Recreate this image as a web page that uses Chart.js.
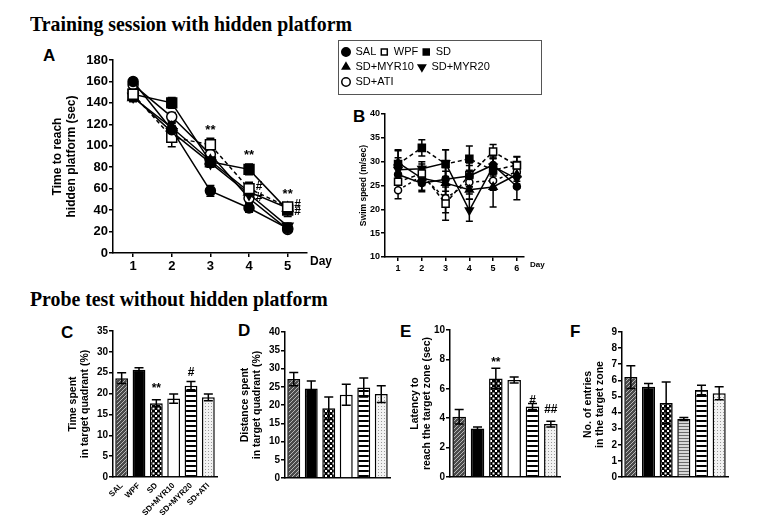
<!DOCTYPE html>
<html><head><meta charset="utf-8">
<script src="https://cdn.jsdelivr.net/npm/chart.js@4.4.1/dist/chart.umd.min.js"></script>
<style>
body{margin:0;background:#fff;width:757px;height:531px;position:relative;overflow:hidden}
canvas{position:absolute}
.h{position:absolute;font:bold 22px/22px 'Liberation Serif','Times New Roman',serif;white-space:nowrap;color:#000;transform:scaleX(0.9);transform-origin:0 0}
.L{position:absolute;font:bold 17px/17px 'Liberation Sans',Arial,sans-serif;color:#000}
</style></head><body>
<div class="h" style="left:30px;top:13px">Training session with hidden platform</div>
<div class="h" style="left:30px;top:288px">Probe test without hidden platform</div>
<div class="L" style="left:43px;top:47px">A</div>
<div class="L" style="left:353px;top:108px">B</div>
<div class="L" style="left:61px;top:324px">C</div>
<div class="L" style="left:238px;top:322px">D</div>
<div class="L" style="left:400px;top:323px">E</div>
<div class="L" style="left:570px;top:323px">F</div>
<canvas id="cA" width="340" height="250" style="left:0;top:40px"></canvas>
<canvas id="cL" width="204" height="110" style="left:338px;top:40px"></canvas>
<canvas id="cB" width="215" height="190" style="left:340px;top:100px"></canvas>
<canvas id="cC" width="200" height="215" style="left:30px;top:315px"></canvas>
<canvas id="cD" width="165" height="200" style="left:230px;top:315px"></canvas>
<canvas id="cE" width="170" height="200" style="left:400px;top:315px"></canvas>
<canvas id="cF" width="185" height="200" style="left:572px;top:315px"></canvas>
<script>
// ---------- DATA ----------
const groups = ['SAL','WPF','SD','SD+MYR10','SD+MYR20','SD+ATI'];
// Panel A: time to reach hidden platform (sec), days 1-5
const daysA = [1,2,3,4,5];
const aSAL   = [160,115,58,42,23];
const aWPF   = [148,108,101,60,43];
const aSD    = [148,140,85,78,40];
const aMYR10 = [145,117,86,57,42];
const aMYR20 = [146,113,84,55,25];
const aATI   = [157,127,92,51,22];
const aErrSAL   = [3,6,5,4,2];
const aErrWPF   = [4,9,6,6,3];
const aErrSD    = [5,5,4,5,6];
const aErrMYR10 = [4,5,4,5,3];
const aErrMYR20 = [4,6,4,5,3];
const aErrATI   = [3,4,4,4,2];
const aStars = [[3,114,'**'],[4,91,'**'],[5,55,'**']];
const aHash  = [[4,61.5,'#'],[4,52,'#'],[5,44.8,'#'],[5,38.6,'#']];
const aTicks = [0,20,40,60,80,100,120,140,160,180];
// Panel B: swim speed (m/sec), days 1-6
const daysB = [1,2,3,4,5,6];
const bSAL   = [27.3,25.5,26.3,27.0,29.3,24.8];
const bWPF   = [25.8,27.5,21.2,27.2,32.1,29.2];
const bSD    = [29.5,32.9,29.5,30.6,28.2,29.3];
const bMYR10 = [29.8,26.5,25.5,24.1,24.7,27.3];
const bMYR20 = [28.3,28.5,29.7,19.8,29.0,26.4];
const bATI   = [24.0,27.0,22.3,25.7,26.0,27.9];
const bErrSAL   = [2.0,1.8,2.5,2.2,2.0,2.8];
const bErrWPF   = [1.5,2.0,3.5,2.5,1.5,1.8];
const bErrSD    = [3.0,1.7,3.0,2.7,2.5,1.8];
const bErrMYR10 = [2.5,2.5,2.5,2.0,4.2,2.0];
const bErrMYR20 = [2.5,1.5,2.8,2.3,2.0,2.0];
const bErrATI   = [1.8,2.0,3.0,2.5,2.0,2.0];
// Panel C: time spent in target quadrant (%)
const cVals = [23.7,25.7,17.7,18.8,21.9,19.1];
const cErr  = [1.3,0.5,0.8,1.1,1.0,0.8];
const cSig  = [[2,21.1,'**'],[4,24.9,'#']];
// Panel D: distance spent in target quadrant (%)
const dVals = [27.1,24.5,19.1,22.8,24.8,23.0];
const dErr  = [1.8,2.1,3.1,2.9,2.6,2.3];
// Panel E: latency to reach the target zone (sec)
const eVals = [4.1,3.3,6.7,6.6,4.8,3.6];
const eErr  = [0.5,0.1,0.7,0.2,0.2,0.2];
const eSig  = [[2,7.8,'**'],[4,5.2,'#'],[5,4.55,'##']];
// Panel F: number of entries in the target zone
const fVals = [6.2,5.6,4.6,3.6,5.4,5.2];
const fErr  = [0.7,0.2,1.3,0.1,0.3,0.4];

// ---------- STYLE ----------
const FAM = "'Liberation Sans', Arial, sans-serif";
Chart.defaults.font.family = FAM;
Chart.defaults.color = '#000';
Chart.defaults.animation = false;
Chart.defaults.responsive = false;
Chart.defaults.plugins.legend.display = false;
Chart.defaults.plugins.tooltip.enabled = false;

const pStyles = ['circle','rect','rect','triangle','triangle','circle'];
const pRot    = [0,0,0,0,180,0];
const pFill   = ['#000','#fff','#000','#000','#000','#fff'];
const radA    = [5,7,7,6,6,5];
const radB    = [3.5,5,5,4.5,4.5,3.5];
const dashA   = [[],[4,3],[],[],[],[]];
const dashB   = [[],[4,3],[4,3],[],[],[3,3]];

function pat(w,h,draw){const c=document.createElement('canvas');c.width=w;c.height=h;const x=c.getContext('2d');draw(x);return x.createPattern(c,'repeat');}
const patSAL = pat(4,4,x=>{x.fillStyle='#4a4a4a';x.fillRect(0,0,4,4);x.strokeStyle='#b5b5b5';x.lineWidth=1;x.beginPath();x.moveTo(0,4);x.lineTo(4,0);x.moveTo(-1,1);x.lineTo(1,-1);x.moveTo(3,5);x.lineTo(5,3);x.stroke();});
const patSD  = pat(5,5,x=>{x.fillStyle='#000';x.fillRect(0,0,5,5);x.fillStyle='#fff';x.fillRect(0,0,2,2);x.fillRect(2.5,2.5,2,2);});
const patM20 = pat(4,5,x=>{x.fillStyle='#fff';x.fillRect(0,0,4,5);x.fillStyle='#000';x.fillRect(0,0,4,2);});
const patATI = pat(3,3,x=>{x.fillStyle='#f2f2f2';x.fillRect(0,0,3,3);x.fillStyle='#9a9a9a';x.fillRect(1,1,1,1);});
const patM10F= pat(3,3,x=>{x.fillStyle='#d8d8d8';x.fillRect(0,0,3,3);x.fillStyle='#6a6a6a';x.fillRect(0,0,3,1);});
const barFill  = [patSAL,'#000',patSD,'#fff',patM20,patATI];
const barFillF = [patSAL,'#000',patSD,patM10F,patM20,patATI];

// ---------- PLUGINS ----------
function errBars(errs, cap, before){
  const draw = chart=>{
    const ctx=chart.ctx, ys=chart.scales.y;
    ctx.save(); ctx.strokeStyle='#000'; ctx.lineWidth=1.5;
    chart.data.datasets.forEach((ds,i)=>{
      const meta=chart.getDatasetMeta(i), e=errs[i]; if(!e) return;
      meta.data.forEach((el,j)=>{
        const d=ds.data[j]; const v=(typeof d==='object')?d.y:d;
        const x=el.x, yt=ys.getPixelForValue(v+e[j]), yb=ys.getPixelForValue(v-e[j]);
        ctx.beginPath();ctx.moveTo(x,yt);ctx.lineTo(x,yb);
        ctx.moveTo(x-cap,yt);ctx.lineTo(x+cap,yt);ctx.moveTo(x-cap,yb);ctx.lineTo(x+cap,yb);ctx.stroke();
      });
    });
    ctx.restore();
  };
  return before ? {id:'errB',beforeDatasetsDraw:draw} : {id:'errA',afterDatasetsDraw:draw};
}
function notes(items, font, dx){
  return {id:'notes'+Math.random().toString(36).slice(2),afterDatasetsDraw(chart){
    const ctx=chart.ctx; ctx.save(); ctx.fillStyle='#000'; ctx.font=font; ctx.textAlign='center'; ctx.textBaseline='middle';
    items.forEach(([x,y,t])=>ctx.fillText(t, chart.scales.x.getPixelForValue(x)+dx, chart.scales.y.getPixelForValue(y)));
    ctx.restore();
  }};
}
function dayLabel(text, font, dx, dy){
  return {id:'day',afterDraw(chart){
    const ctx=chart.ctx,a=chart.chartArea; ctx.save(); ctx.fillStyle='#000'; ctx.font=font; ctx.textAlign='left'; ctx.textBaseline='middle';
    ctx.fillText(text, a.right+dx, a.bottom+dy); ctx.restore();
  }};
}
const boxBorder = {id:'boxBorder',afterDraw(chart){const c=chart.ctx;c.save();c.strokeStyle='#555';c.lineWidth=1;c.strokeRect(0.5,0.5,chart.width-1,54);c.restore();}};

function yAxis(min,max,step,size,width,title,tsize,tpad){
  return {min,max,
    ticks:{stepSize:step,font:{size,weight:'bold'},padding:1,color:'#000'},
    grid:{display:true,drawOnChartArea:false,tickLength:4,color:'#000',lineWidth:1.5},
    border:{display:true,color:'#000',width:1.5},
    afterFit:s=>{s.width=width;},
    title:{display:true,text:title,color:'#000',font:{size:tsize,weight:'bold',lineHeight:1.2},padding:{top:tpad,bottom:0}}};
}
function xLinear(min,max,ticks,size,height){
  return {type:'linear',min,max,
    afterBuildTicks:s=>{s.ticks=ticks.map(v=>({value:v}));},
    ticks:{font:{size,weight:'bold'},padding:2,maxRotation:0,autoSkip:false,color:'#000'},
    grid:{display:true,drawOnChartArea:false,tickLength:4,color:'#000',lineWidth:1.5},
    border:{display:true,color:'#000',width:1.5},
    afterFit:s=>{s.height=height;}};
}
function lineSets(vals, days, rad, dash){
  return vals.map((v,i)=>({label:groups[i],data:days.map((d,j)=>({x:d,y:v[j]})),
    borderColor:'#000',borderWidth:1.5,borderDash:dash[i],tension:0,
    pointStyle:pStyles[i],pointRotation:pRot[i],pointRadius:rad[i],
    pointBackgroundColor:pFill[i],pointBorderColor:'#000',pointBorderWidth:1.5}));
}

// ---------- PANEL A ----------
new Chart(document.getElementById('cA'),{
  type:'line',
  data:{datasets:lineSets([aSAL,aWPF,aSD,aMYR10,aMYR20,aATI],daysA,radA,dashA)},
  options:{layout:{padding:{left:0,top:20,right:33,bottom:0}},
    scales:{x:xLinear(0.48,5.5,daysA,13,37),
      y:Object.assign(yAxis(0,180,20,13,113,['Time to reach','hidden platform (sec)'],12,50),{afterBuildTicks:s=>{s.ticks=aTicks.map(v=>({value:v}));}})}},
  plugins:[errBars([aErrSAL,aErrWPF,aErrSD,aErrMYR10,aErrMYR20,aErrATI],4,true),
    notes(aStars,"bold 13px "+FAM,0),notes(aHash,"bold 12px "+FAM,10),
    dayLabel('Day',"bold 12px "+FAM,3,9)]
});

// ---------- LEGEND ----------
new Chart(document.getElementById('cL'),{
  type:'line',
  data:{labels:[''],datasets:groups.map((g,i)=>({label:g,data:[null],pointStyle:pStyles[i],pointRotation:pRot[i],
    pointBackgroundColor:pFill[i],pointBorderColor:'#000',pointBorderWidth:1.5,borderColor:'#000',backgroundColor:pFill[i]}))},
  options:{layout:{padding:{left:0,top:2.5,right:29,bottom:0}},
    scales:{x:{display:false},y:{display:false}},
    plugins:{legend:{display:true,position:'top',align:'start',maxHeight:100,
      labels:{usePointStyle:true,boxWidth:8,boxHeight:6,padding:4,color:'#000',font:{size:11,family:FAM}}}}},
  plugins:[boxBorder]
});

// ---------- PANEL B ----------
new Chart(document.getElementById('cB'),{
  type:'line',
  data:{datasets:lineSets([bSAL,bWPF,bSD,bMYR10,bMYR20,bATI],daysB,radB,dashB)},
  options:{layout:{padding:{left:0,top:14,right:31,bottom:0}},
    scales:{x:xLinear(0.45,6.3,daysB,9,33),
      y:yAxis(10,40,5,9,45,'Swim speed (m/sec)',8.5,19)}},
  plugins:[errBars([bErrSAL,bErrWPF,bErrSD,bErrMYR10,bErrMYR20,bErrATI],3.5,true),
    dayLabel('Day',"bold 8px "+FAM,6,8)]
});

// ---------- BAR PANELS ----------
function barChart(id,vals,errs,fills,yMin,yMax,step,yW,xH,padR,padT,title,tpad,showX,sig){
  const pl=[errBars([errs],4.5,false)];
  if(sig) pl.push(notes(sig,"bold 12px "+FAM,0));
  return new Chart(document.getElementById(id),{
    type:'bar',
    data:{labels:groups,datasets:[{data:vals,backgroundColor:fills,borderColor:'#000',borderWidth:1.5,
      barPercentage:0.74,categoryPercentage:1,borderSkipped:'bottom'}]},
    options:{layout:{padding:{left:0,top:padT,right:padR,bottom:0}},
      scales:{
        x:{grid:{display:false,drawTicks:false},border:{display:true,color:'#000',width:1.5},
          ticks:{display:showX,font:{size:8,weight:'bold'},minRotation:45,maxRotation:45,autoSkip:false,padding:4,color:'#000'},
          afterFit:s=>{s.height=xH;}},
        y:yAxis(yMin,yMax,step,10,yW,title,10.5,tpad)}},
    plugins:pl
  });
}
barChart('cC',cVals,cErr,barFill,0,35,5,83,53,13,16,['Time spent','in target quadrant (%)'],36.7,true,cSig);
barChart('cD',dVals,dErr,barFill,0,40,5,55,37,5,17,['Distance spent','in target quadrant (%)'],8.7,false,null);
barChart('cE',eVals,eErr,barFill,0,10,1,50,38,10,15,['Latency to','reach the target zone (sec)'],8.7,false,eSig);
barChart('cF',fVals,fErr,barFillF,0,9,1,50,38,29,17,['No. of entries','in the target zone'],9.7,false,null);
</script>
</body></html>
